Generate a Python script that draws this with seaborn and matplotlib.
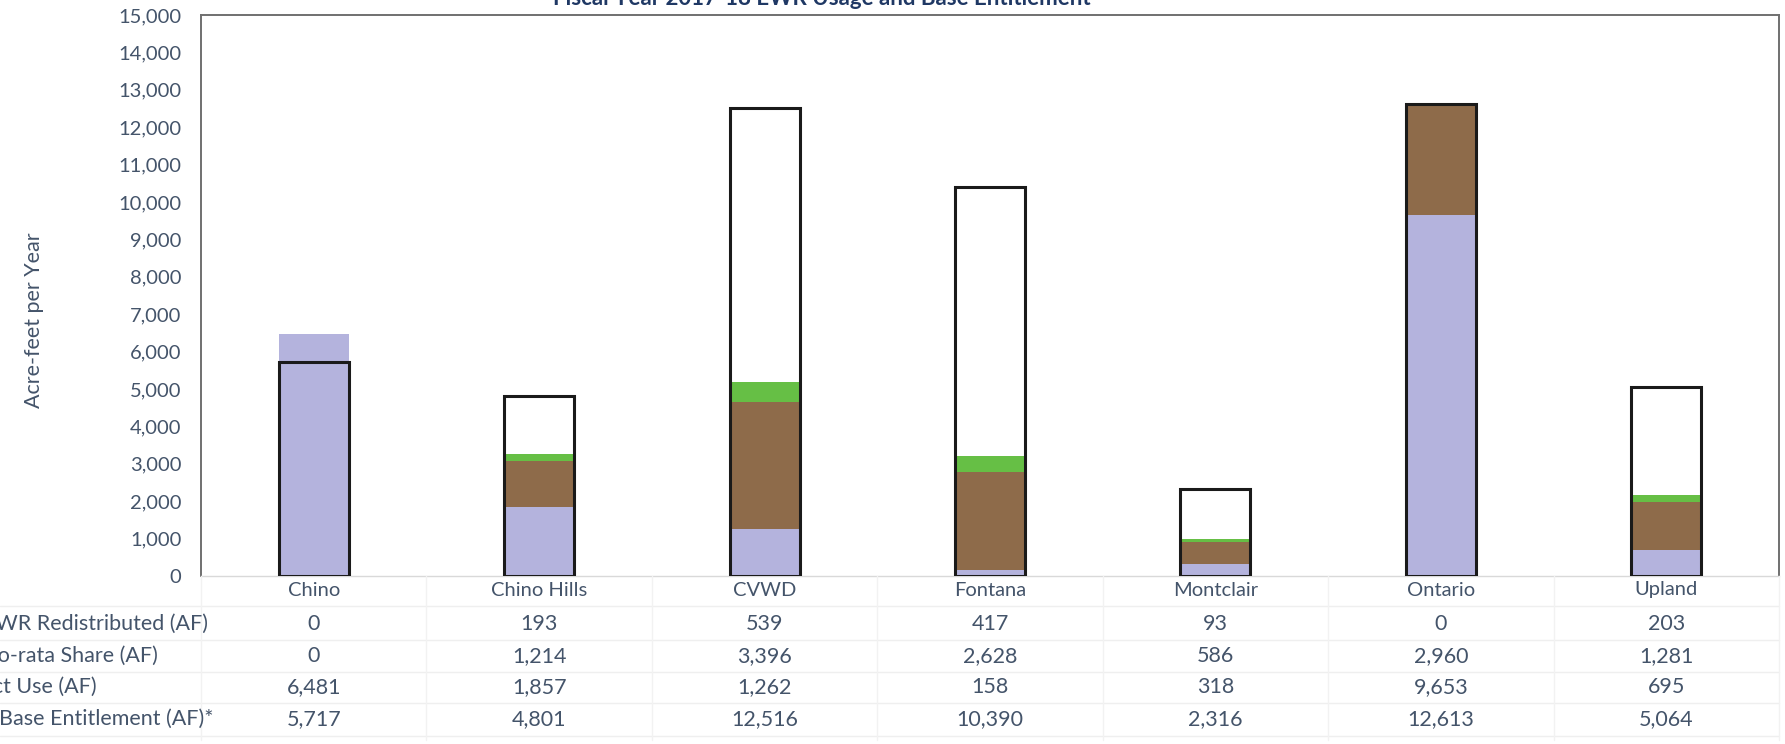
import matplotlib
matplotlib.use("Agg")
import matplotlib.pyplot as plt
import matplotlib.transforms as mtransforms
from matplotlib.ticker import FuncFormatter, MultipleLocator
import seaborn as sns
import pandas as pd

# Agencies and their fiscal-year figures (acre-feet)
agencies = ["Chino", "Chino Hills", "CVWD", "Fontana", "Montclair", "Ontario", "Upland"]
ewr_redistributed = [0, 193, 539, 417, 93, 0, 203]
pro_rata_share = [0, 1214, 3396, 2628, 586, 2960, 1281]
direct_use = [6481, 1857, 1262, 158, 318, 9653, 695]
base_entitlement = [5717, 4801, 12516, 10390, 2316, 12613, 5064]

row_labels = ["EWR Redistributed (AF)", "Pro-rata Share (AF)", "Direct Use (AF)",
              "Base Entitlement (AF)*"]
title_text = "Fiscal Year 2017-18 EWR Usage and Base Entitlement"
ylabel_text = "Acre-feet per Year"

C_USE = "#B4B3DD"
C_PRO = "#8E6B4A"
C_EWR = "#66BF45"
C_TEXT = "#44546A"
C_TITLE = "#1F3864"

df = pd.DataFrame({
    "agency": agencies,
    "use": direct_use,
    "pro": pro_rata_share,
    "ewr": ewr_redistributed,
    "base": base_entitlement,
})
df["use_pro"] = df["use"] + df["pro"]
df["total"] = df["use_pro"] + df["ewr"]

sns.set_theme(style="white")
plt.rcParams["font.family"] = ["Lato", "DejaVu Sans"]

W, H, DPI = 1785, 744, 100
fig = plt.figure(figsize=(W / DPI, H / DPI), dpi=DPI)
ax = fig.add_axes([201 / W, 168 / H, (1779 - 201) / W, (576 - 15) / H])

bw = 0.31
common = dict(data=df, x="agency", ax=ax, width=bw, errorbar=None, saturation=1)

# white entitlement backing, then the stacked usage layers, then the outline
sns.barplot(y="base", color="white", linewidth=0, **common)
sns.barplot(y="total", color=C_EWR, linewidth=0, **common)
sns.barplot(y="use_pro", color=C_PRO, linewidth=0, **common)
sns.barplot(y="use", color=C_USE, linewidth=0, **common)
sns.barplot(y="base", color="white", linewidth=2.2, edgecolor="#1a1a1a", **common)
for p in ax.patches[-len(agencies):]:
    p.set_facecolor("none")
    p.set_zorder(5)

ax.set_ylim(0, 15000)
ax.set_xlim(-0.5, len(agencies) - 0.5)
ax.yaxis.set_major_locator(MultipleLocator(1000))
ax.yaxis.set_major_formatter(FuncFormatter(lambda v, _: f"{int(v):,}"))
ax.tick_params(axis="y", length=0, pad=14, labelsize=14.5, labelcolor=C_TEXT)
ax.set_xticks([])
ax.set_xlabel("")
ax.set_ylabel("")
ax.grid(False)

for side in ("left", "top", "right"):
    ax.spines[side].set_color("#707070")
    ax.spines[side].set_linewidth(1.4)
ax.spines["bottom"].set_color("#D9D9D9")
ax.spines["bottom"].set_linewidth(1.0)

fig.text(34 / W, 1 - 320 / H, ylabel_text, rotation=90, ha="center", va="center",
         fontsize=15.5, color=C_TEXT)

fig.text(553 / W, 1 - 5 / H, title_text, ha="left", va="baseline",
         fontsize=16, fontweight="bold", color=C_TITLE)

# data table under the plot
trans = mtransforms.blended_transform_factory(ax.transData, fig.transFigure)
row_y = [624, 656, 687, 719]
row_vals = [ewr_redistributed, pro_rata_share, direct_use, base_entitlement]
row_ends = [208, 158, 97, 213]

for i, name in enumerate(agencies):
    ax.text(i, 1 - 590 / H, name, transform=trans, ha="center", va="center",
            fontsize=14.5, color=C_TEXT)
    for y, vals in zip(row_y, row_vals):
        ax.text(i, 1 - y / H, f"{vals[i]:,}", transform=trans, ha="center",
                va="center", fontsize=15.5, color=C_TEXT)

for y, label, xe in zip(row_y, row_labels, row_ends):
    fig.text(xe / W, 1 - y / H, label, ha="right", va="center", fontsize=15.5,
             color=C_TEXT)

# faint table rules
for yb in [606, 640, 672, 703, 736]:
    fig.add_artist(plt.Line2D([0, 1779 / W], [1 - yb / H] * 2, color="#EFEFEF",
                              lw=1.0, transform=fig.transFigure))
for i in range(len(agencies) + 1):
    xb = ax.transData.transform((i - 0.5, 0))[0] / W
    fig.add_artist(plt.Line2D([xb, xb], [1 - 576 / H, 1 - 740 / H], color="#F2F2F2",
                              lw=1.0, transform=fig.transFigure))

fig.savefig("out.png", dpi=DPI, facecolor="white")
